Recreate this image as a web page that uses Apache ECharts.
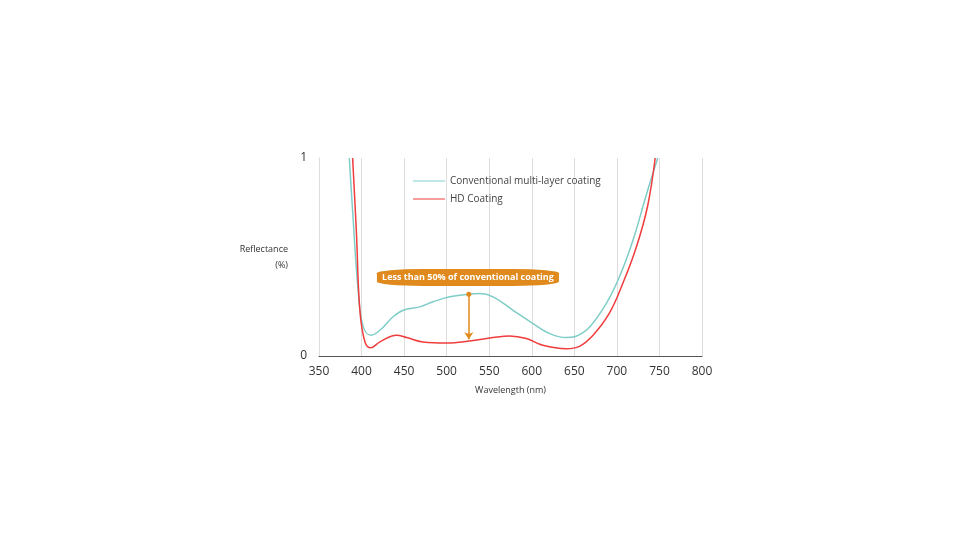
<!DOCTYPE html>
<html>
<head>
<meta charset="utf-8">
<script src="https://cdn.jsdelivr.net/npm/echarts@6/dist/echarts.min.js"></script>
<style>html,body{margin:0;background:#fff}#chart{width:978px;height:550px}</style>
</head>
<body>
<div id="chart"></div>
<script>
var conventional = [
  [385.6, 1.0], [390, 0.70], [396, 0.33], [402, 0.147], [411, 0.105], [421.6, 0.13],
  [437, 0.198], [449, 0.231], [468.5, 0.248], [484, 0.274], [503.7, 0.299], [526, 0.312],
  [539, 0.316], [554.5, 0.299], [578, 0.231], [601.5, 0.164], [621, 0.113], [640.6, 0.093],
  [652, 0.10], [668, 0.147], [687.5, 0.265], [703, 0.40], [719, 0.586], [734, 0.806], [748, 1.0]
];
var hdCoating = [
  [389.5, 1.0], [394, 0.62], [398, 0.231], [404, 0.071], [411, 0.042], [421.6, 0.071],
  [441, 0.105], [453, 0.093], [472, 0.071], [500, 0.066], [527, 0.076], [554.5, 0.093],
  [574, 0.101], [593.6, 0.088], [613, 0.054], [640.6, 0.037], [656, 0.049], [672, 0.105],
  [691, 0.215], [707, 0.367], [723, 0.552], [736, 0.755], [745, 1.0]
];
var arrowFrom = [526, 0.312];
var arrowTo = [526, 0.085];
var noteAt = [525, 0.397];
var noteText = "Less than 50% of conventional coating";

var dom = document.getElementById("chart");
var chart = echarts.init(dom, null, { renderer: "canvas" });

var option = {
  textStyle: { fontFamily: "Open Sans" },
  grid: { left: 319, right: 276, top: 158, bottom: 194 },
  legend: {
    orient: "vertical",
    left: 408,
    top: 171,
    itemWidth: 32,
    itemHeight: 10,
    itemGap: 8,
    textStyle: { fontSize: 10, color: "#444" },
    data: [
      { name: "Conventional multi-layer coating", icon: "path://M0,5L32,5L32,6L0,6Z" },
      { name: "HD Coating", icon: "path://M0,5L32,5L32,6L0,6Z" }
    ]
  },
  xAxis: {
    type: "value",
    min: 350,
    max: 800,
    interval: 50,
    name: "Wavelength (nm)",
    nameLocation: "middle",
    nameGap: 30,
    nameTextStyle: { fontSize: 9, color: "#333" },
    axisLine: { lineStyle: { color: "#555" } },
    axisTick: { show: false },
    axisLabel: { fontSize: 12, color: "#333", margin: 10 },
    splitLine: { show: true, lineStyle: { color: "#ddd" } }
  },
  yAxis: {
    type: "value",
    min: 0,
    max: 1,
    interval: 1,
    name: "Reflectance\n(%)",
    nameLocation: "middle",
    nameRotate: 0,
    nameGap: 31,
    nameTextStyle: { fontSize: 9, color: "#333", lineHeight: 16 },
    axisLine: { show: true, lineStyle: { color: "#ddd" } },
    axisTick: { show: false },
    axisLabel: { fontSize: 12, color: "#333", margin: 12 },
    splitLine: { show: false }
  },
  series: [
    {
      name: "Conventional multi-layer coating",
      type: "line",
      smooth: 0.4,
      symbol: "none",
      clip: true,
      color: "#7ecdc8",
      lineStyle: { width: 1.5 },
      data: conventional
    },
    {
      name: "HD Coating",
      type: "line",
      smooth: 0.4,
      symbol: "none",
      clip: true,
      color: "#f03c3c",
      lineStyle: { width: 1.5 },
      data: hdCoating,
      markLine: {
        silent: true,
        lineStyle: { color: "#e08a1e", width: 1.5, type: "solid" },
        label: { show: false },
        data: [[
          { coord: arrowFrom, symbol: "circle", symbolSize: 5 },
          { coord: arrowTo, symbol: "arrow", symbolSize: 7 }
        ]]
      },
      markPoint: {
        silent: true,
        data: [{
          coord: noteAt,
          symbol: "roundRect",
          symbolSize: [182, 17],
          itemStyle: { color: "#e08a1e" },
          label: { show: true, formatter: noteText, color: "#fff", fontSize: 9, fontWeight: "bold" }
        }]
      }
    }
  ]
};

if (option && typeof option === "object") {
  chart.setOption(option);
}
window.addEventListener("resize", chart.resize);
</script>
</body>
</html>
